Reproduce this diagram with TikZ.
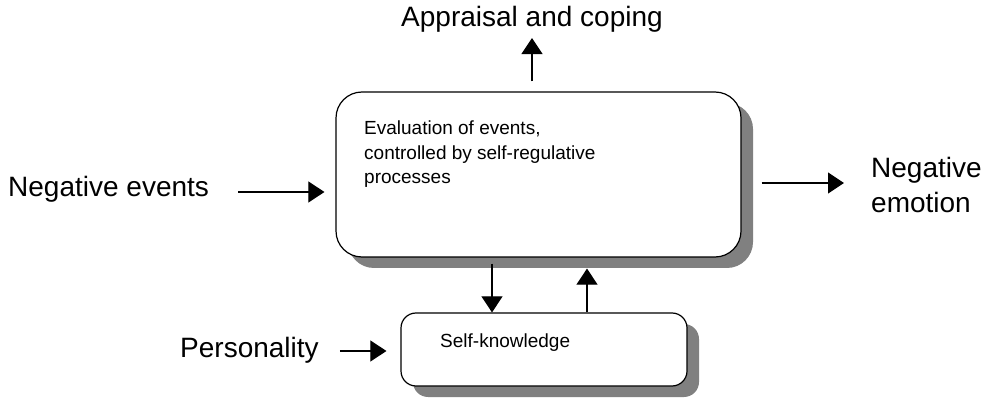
\documentclass[tikz,border=0pt]{standalone}
\usepackage{fontspec}
\setmainfont{Liberation Sans}
\usetikzlibrary{arrows.meta,shadows}
\definecolor{shadegray}{RGB}{128,128,128}
\begin{document}
\begin{tikzpicture}[x=1pt,y=-1pt,
  box/.style={draw, line width=1.2pt, fill=white,
    drop shadow={shadow xshift=12pt, shadow yshift=-11pt, fill=shadegray, opacity=1}},
  big/.style={inner sep=0pt, font=\fontsize{28}{35}\selectfont},
  small/.style={inner sep=0pt, font=\fontsize{19}{24.5}\selectfont},
  arr/.style={line width=1.1pt, -{Triangle[length=16pt,width=21pt]}}]
\useasboundingbox (0,0) rectangle (989,398);
% the two boxes
\node[box, rounded corners=26pt, minimum width=405pt, minimum height=165pt] (eval) at (538.5,174.5) {};
\node[box, rounded corners=15pt, minimum width=286pt, minimum height=73pt] (self) at (544,349.5) {};
\node[small, align=left, anchor=north west] (evaltext) at (364,121) {Evaluation of events,\\controlled by self-regulative\\processes};
\node[small, anchor=base west] (selftext) at (440,348) {Self-knowledge};
% outer labels
\node[big, anchor=base] (appr) at (532,27) {Appraisal and coping};
\node[big, anchor=base west] (negev) at (8,197) {Negative events};
\node[big, align=left, anchor=north west] (negemo) at (871,157) {Negative\\emotion};
\node[big, anchor=base west] (pers) at (180,358) {Personality};
% arrows
\draw[arr, shorten <=10pt, shorten >=5pt] (eval.north -| appr.south) -- (appr.south);
\draw[arr, shorten <=29pt, shorten >=11pt] (negev.east |- 0,192) -- (eval.west |- 0,192);
\draw[arr, shorten <=20pt, shorten >=27pt] (eval.east |- 0,183) -- (negemo.west |- 0,183);
\draw[arr, shorten <=6pt] (eval.south -| 492,0) -- (self.north -| 492,0);
\draw[arr, shorten >=11pt] (self.north -| 587,0) -- (eval.south -| 587,0);
\draw[arr, shorten <=21pt, shorten >=14pt] (pers.east |- 0,351) -- (self.west |- 0,351);
\end{tikzpicture}
\end{document}
